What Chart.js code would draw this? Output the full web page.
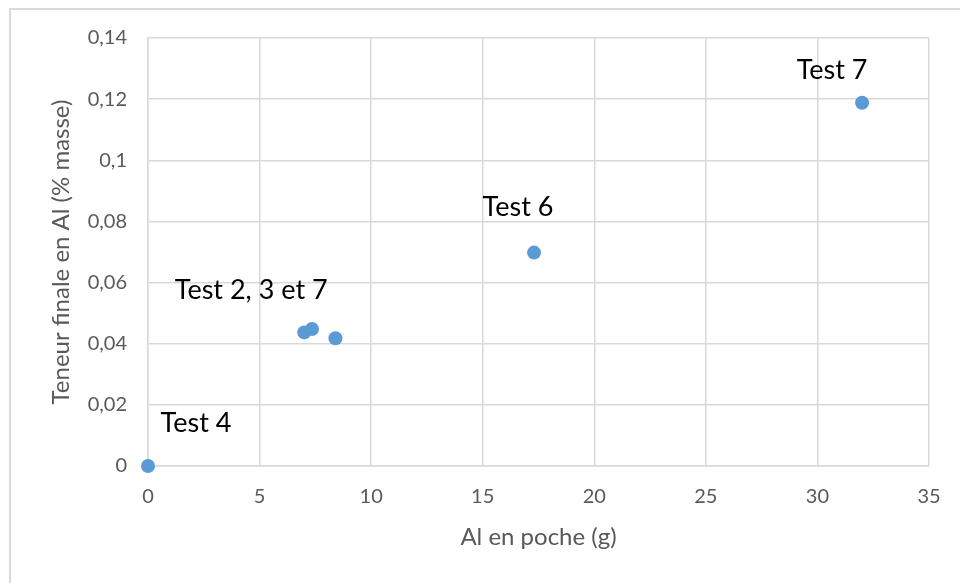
<!DOCTYPE html>
<html>
<head>
<meta charset="utf-8">
<script src="https://cdn.jsdelivr.net/npm/chart.js@4"></script>
<style>
  html, body { margin: 0; padding: 0; background: #fff; }
  #wrap { width: 960px; height: 583px; }
</style>
</head>
<body>
<div id="wrap"><canvas id="teneurChart"></canvas></div>
<script>
// Données
const alPoche = [0, 7.0, 7.35, 8.4, 17.3, 32.0];
const teneurFinale = [0, 0.0437, 0.0448, 0.0418, 0.0698, 0.1188];
const yTickLabels = ['0', '0,02', '0,04', '0,06', '0,08', '0,1', '0,12', '0,14'];
const xTickLabels = ['0', '5', '10', '15', '20', '25', '30', '35'];
const etiquettes = ['Test 4', 'Test 2, 3 et 7', 'Test 6', 'Test 7'];
const etiquettePoint = [0, 1, 4, 5];

const points = alPoche.map((x, i) => ({ x: x, y: teneurFinale[i] }));

// décalages (px) des étiquettes par rapport au point associé
const decalages = [[48, -43], [-53, -42], [-16, -45], [-30, -33]];

const cadre = {
  id: 'cadre',
  beforeDraw(chart) {
    const c = chart.ctx;
    c.save();
    c.strokeStyle = '#d9d9d9';
    c.lineWidth = 2;
    c.strokeRect(10, 9, 1000, 700);
    c.restore();
  }
};

const annotations = {
  id: 'annotations',
  afterDatasetsDraw(chart) {
    const c = chart.ctx;
    const xs = chart.scales.x, ys = chart.scales.y;
    c.save();
    c.font = '27px Lato';
    c.fillStyle = '#000';
    c.textAlign = 'center';
    c.textBaseline = 'middle';
    etiquettes.forEach((t, i) => {
      const p = points[etiquettePoint[i]];
      c.fillText(t, xs.getPixelForValue(p.x) + decalages[i][0], ys.getPixelForValue(p.y) + decalages[i][1]);
    });
    c.restore();
  }
};

const ctx = document.getElementById('teneurChart').getContext('2d');

new Chart(ctx, {
  type: 'scatter',
  data: {
    datasets: [{
      data: points,
      backgroundColor: '#5b9bd5',
      borderWidth: 0,
      pointRadius: 7,
      pointHoverRadius: 7,
      clip: false
    }]
  },
  options: {
    responsive: true,
    maintainAspectRatio: false,
    animation: false,
    layout: { padding: { left: 0, top: 38, right: 31, bottom: 0 } },
    plugins: {
      legend: { display: false },
      tooltip: { enabled: false }
    },
    scales: {
      x: {
        min: 0, max: 35,
        ticks: {
          stepSize: 5,
          color: '#595959',
          font: { family: 'Lato', size: 20 },
          padding: 19,
          callback: (v, i) => xTickLabels[i]
        },
        grid: { color: '#d9d9d9', lineWidth: 1.5, drawTicks: false },
        border: { color: '#d9d9d9', width: 1.5 },
        title: {
          display: true,
          text: 'Al en poche (g)',
          color: '#595959',
          font: { family: 'Lato', size: 24 },
          padding: { top: 0, bottom: 31 }
        },
        afterFit(scale) { scale.height = 117; }
      },
      y: {
        min: 0, max: 0.14,
        ticks: {
          stepSize: 0.02,
          color: '#595959',
          font: { family: 'Lato', size: 20 },
          padding: 21,
          callback: (v, i) => yTickLabels[i]
        },
        grid: { color: '#d9d9d9', lineWidth: 1.5, drawTicks: false },
        border: { color: '#d9d9d9', width: 1.5 },
        title: {
          display: true,
          text: 'Teneur finale en Al (% masse)',
          color: '#595959',
          font: { family: 'Lato', size: 24 },
          padding: { top: 47, bottom: 0 }
        },
        afterFit(scale) { scale.width = 148; }
      }
    }
  },
  plugins: [cadre, annotations]
});
</script>
</body>
</html>
